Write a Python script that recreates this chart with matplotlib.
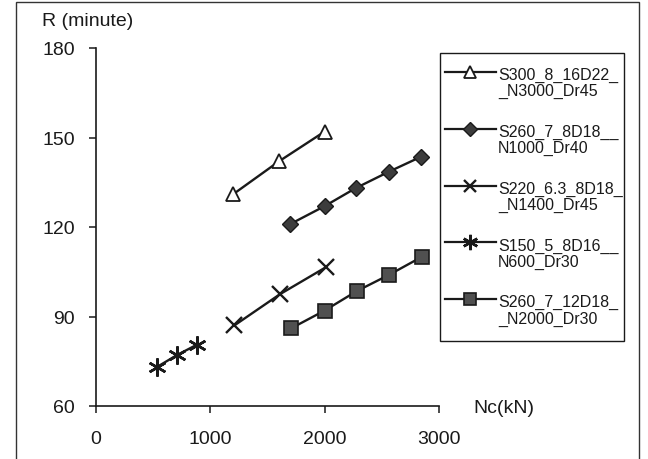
import matplotlib.pyplot as plt
from matplotlib.lines import Line2D
from matplotlib.patches import Rectangle

plt.rcParams['font.family'] = ['Liberation Sans', 'DejaVu Sans']

W, H = 648, 460
INK = '#1a1a1a'

labels = ['S300_8_16D22_\n_N3000_Dr45', 'S260_7_8D18__\nN1000_Dr40',
          'S220_6.3_8D18_\n_N1400_Dr45', 'S150_5_8D16__\nN600_Dr30',
          'S260_7_12D18_\n_N2000_Dr30']
nc_tri = [1200, 1600, 2000]
r_tri = [131, 142, 152]
nc_dia = [1700, 2000, 2270, 2560, 2840]
r_dia = [121, 127, 133, 138.5, 143.5]
nc_x = [1210, 1610, 2010]
r_x = [87, 97.5, 106.5]
nc_star = [530, 705, 880]
r_star = [73, 77, 80.5]
nc_sq = [1705, 2000, 2280, 2565, 2850]
r_sq = [86, 92, 98.5, 104, 110]

styles = [
    dict(marker='^', ms=10, mfc='white', mec=INK, mew=1.3),
    dict(marker='D', ms=8, mfc='#3c3c3c', mec=INK, mew=1.0),
    dict(marker='x', ms=11, mfc=INK, mec=INK, mew=1.7),
    dict(marker=(6, 2, 0), ms=13, mfc=INK, mec=INK, mew=1.8),
    dict(marker='s', ms=10, mfc='#505050', mec=INK, mew=1.2),
]
series = [(nc_tri, r_tri), (nc_dia, r_dia), (nc_x, r_x), (nc_star, r_star), (nc_sq, r_sq)]


def fx(px):
    return px / W


def fy(py):
    return 1 - py / H


fig = plt.figure(figsize=(6.48, 4.6), dpi=100, facecolor='white')
ax = fig.add_axes([fx(96), fy(407), fx(439) - fx(96), fy(49) - fy(407)])

for (xs, ys), st in zip(series, styles):
    ax.plot(xs, ys, color=INK, lw=1.7, clip_on=False, **st)

ax.set_xlim(0, 3000)
ax.set_ylim(60, 180)
ax.set_xticks([0, 1000, 2000, 3000])
ax.set_yticks([60, 90, 120, 150, 180])
for s in ['top', 'right']:
    ax.spines[s].set_visible(False)
for s in ['left', 'bottom']:
    ax.spines[s].set_color(INK)
    ax.spines[s].set_linewidth(1.2)
ax.tick_params(colors=INK, labelsize=14, length=5, width=1.1, direction='out')
ax.tick_params(axis='x', pad=12)
ax.tick_params(axis='y', pad=10)

fig.text(fx(42), fy(22), 'R (minute)', fontsize=14, color=INK, va='center', ha='left')
fig.text(fx(473), fy(409), 'Nc(kN)', fontsize=14, color=INK, va='center', ha='left')

# outer frame
fig.add_artist(Rectangle((fx(16), fy(470)), fx(639) - fx(16), fy(3) - fy(470),
                         transform=fig.transFigure, fill=False, ec='#333333', lw=1.0, clip_on=False))

# legend box, drawn by hand so the symbol sits on the first text line
fig.add_artist(Rectangle((fx(440), fy(342)), fx(624) - fx(440), fy(54) - fy(342),
                         transform=fig.transFigure, fill=False, ec=INK, lw=1.0))
for i, (lab, st) in enumerate(zip(labels, styles)):
    yy = 73 + i * 56.8
    fig.add_artist(Line2D([fx(445), fx(496)], [fy(yy), fy(yy)], transform=fig.transFigure,
                          color=INK, lw=1.6))
    fig.add_artist(Line2D([fx(470.5)], [fy(yy)], transform=fig.transFigure, ls='none',
                          **{k: (v * 0.85 if k == 'ms' else v) for k, v in st.items()}))
    fig.text(fx(498), fy(yy - 5), lab, fontsize=11.5, color=INK, va='top', ha='left',
             linespacing=1.1)

fig.savefig('out.png', dpi=100, facecolor='white')
